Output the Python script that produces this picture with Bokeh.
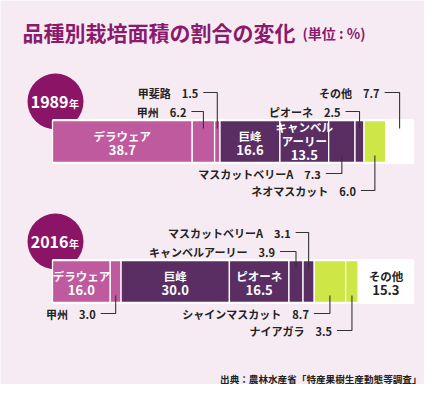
from bokeh.plotting import figure
from bokeh.models import Range1d
from bokeh.embed import file_html
from bokeh.resources import INLINE
from bokeh.core.properties import value

# ---------------- data ----------------
title_text = "品種別栽培面積の割合の変化"
unit_text = "(単位 : %)"
source_text = "出典：農林水産省「特産果樹生産動態等調査」"
year_labels = ["1989", "2016"]

varieties_1989 = ["デラウェア", "甲州", "甲斐路", "巨峰", "キャンベルアーリー",
                  "マスカットベリーA", "ピオーネ", "ネオマスカット", "その他"]
shares_1989 = [38.7, 6.2, 1.5, 16.6, 13.5, 7.3, 2.5, 6.0, 7.7]

varieties_2016 = ["デラウェア", "甲州", "巨峰", "ピオーネ", "キャンベルアーリー",
                  "マスカットベリーA", "シャインマスカット", "ナイアガラ", "その他"]
shares_2016 = [16.0, 3.0, 30.0, 16.5, 3.9, 3.1, 8.7, 3.5, 15.3]

# colour group per variety
PINK, PURPLE, LIME, WHITE = "#be5a9d", "#5b2e63", "#cfe647", "#ffffff"
variety_color = {
    "デラウェア": PINK, "甲州": PINK, "甲斐路": PINK,
    "巨峰": PURPLE, "キャンベルアーリー": PURPLE, "マスカットベリーA": PURPLE, "ピオーネ": PURPLE,
    "ネオマスカット": LIME, "シャインマスカット": LIME, "ナイアガラ": LIME,
    "その他": WHITE,
}

# ---------------- layout / style ----------------
BG = "#f6ebf3"
TITLE_C = "#8b1a6c"
CIRCLE_C = "#8c1467"
DARK = "#222222"
LINE_C = "#333333"
FONT = value("Noto Sans CJK JP")
X0 = 52.0      # px of 0 %
SCALE = 3.61   # px per %
W, H = 424, 384

def ux(px):
    return (px - X0) / SCALE

p = figure(width=W, height=H, output_backend="svg", toolbar_location=None,
           x_range=Range1d(ux(0), ux(W)), y_range=Range1d(H, 0),
           x_axis_type=None, y_axis_type=None, min_border=0)
p.background_fill_color = BG
p.border_fill_color = BG
p.outline_line_color = None
p.grid.visible = False

# title
p.text(x=[ux(22)], y=[31], text=[title_text], text_font=FONT, text_font_style="bold",
       text_font_size="21px", text_color=TITLE_C, text_baseline="middle", text_align="left")
p.text(x=[ux(302)], y=[32], text=[unit_text], text_font=FONT, text_font_style="bold",
       text_font_size="14px", text_color=TITLE_C, text_baseline="middle", text_align="left")
p.text(x=[ux(421)], y=[378], text=[source_text], text_font=FONT, text_font_style="bold",
       text_font_size="9.6px", text_color=DARK, text_baseline="middle", text_align="right")

# per-year layout (bar centre y, circle centre y)
rows = [
    dict(year=year_labels[0], names=varieties_1989, vals=shares_1989, yc=141, cy=101,
         inside={"デラウェア": ["デラウェア"], "巨峰": ["巨峰"], "キャンベルアーリー": ["キャンベル", "アーリー"]},
         outside=[("甲斐路", "top", 0, 14), ("甲州", "top", 1, 12), ("その他", "top", 0, 15),
                  ("ピオーネ", "top", 1, 14), ("マスカットベリーA", "bottom", 0, 16),
                  ("ネオマスカット", "bottom", 1, 14)]),
    dict(year=year_labels[1], names=varieties_2016, vals=shares_2016, yc=281, cy=241,
         inside={"デラウェア": ["デラウェア"], "巨峰": ["巨峰"], "ピオーネ": ["ピオーネ"], "その他": ["その他"]},
         outside=[("マスカットベリーA", "top", 0, 13), ("キャンベルアーリー", "top", 1, 16),
                  ("甲州", "bottom", 0, 15), ("シャインマスカット", "bottom", 0, 16),
                  ("ナイアガラ", "bottom", 1, 15)]),
]

BAR_H = 42
for r in rows:
    names, vals, yc = r["names"], r["vals"], r["yc"]
    top, bot = yc - BAR_H / 2, yc + BAR_H / 2
    # year circle
    p.scatter(x=[ux(55)], y=[r["cy"]], size=56, marker="circle", fill_color=CIRCLE_C, line_color=None)
    p.text(x=[ux(68)], y=[r["cy"]], text=[r["year"]], text_font=FONT, text_font_style="bold",
           text_font_size="16px", text_color="white", text_baseline="middle", text_align="right")
    p.text(x=[ux(68.5)], y=[r["cy"] + 2], text=["年"], text_font=FONT, text_font_style="bold",
           text_font_size="10px", text_color="white", text_baseline="middle", text_align="left")

    lefts, rights = [], []
    acc = 0.0
    for v in vals:
        lefts.append(acc)
        acc += v
        rights.append(acc)
    centers = [(a + b) / 2 for a, b in zip(lefts, rights)]

    # white backing + segments
    p.hbar(y=[yc], left=[0], right=[acc], height=BAR_H + 3, fill_color="white", line_color=None)
    p.hbar(y=[yc] * len(vals), left=lefts, right=rights, height=BAR_H,
           fill_color=[variety_color[n] for n in names], line_color="white", line_width=1.3)

    # inside labels
    for n, lines in r["inside"].items():
        i = names.index(n)
        col = DARK if variety_color[n] == WHITE else "white"
        txts = lines + [f"{vals[i]:.1f}"]
        if len(txts) == 2:
            ys = [yc - 6, yc + 8]
        else:
            ys = [yc - 15, yc - 1, yc + 13]
        for k, (t, yy) in enumerate(zip(txts, ys)):
            is_num = k == len(txts) - 1
            p.text(x=[centers[i]], y=[yy], text=[t], text_font=FONT, text_font_style="bold",
                   text_font_size="13px" if is_num else "11.5px", text_color=col,
                   text_baseline="middle", text_align="center")

    # outside labels with leader lines
    for n, side, row, arm in r["outside"]:
        i = names.index(n)
        c = centers[i]
        if side == "top":
            ly = top - 28 if row == 0 else top - 9
            end_y = top + 8
        else:
            ly = bot + 11 if row == 0 else bot + 28
            end_y = bot - 7
        xs = [c - arm / SCALE, c, c]
        ys = [ly, ly, end_y]
        p.line(x=xs, y=ys, line_color=LINE_C, line_width=1.1)
        p.text(x=[c - (arm + 5) / SCALE], y=[ly], text=[f"{n}\u3000{vals[i]:.1f}"],
               text_font=FONT, text_font_style="bold", text_font_size="11px",
               text_color=DARK, text_baseline="middle", text_align="right")

open("out.html", "w").write(file_html(p, INLINE))
